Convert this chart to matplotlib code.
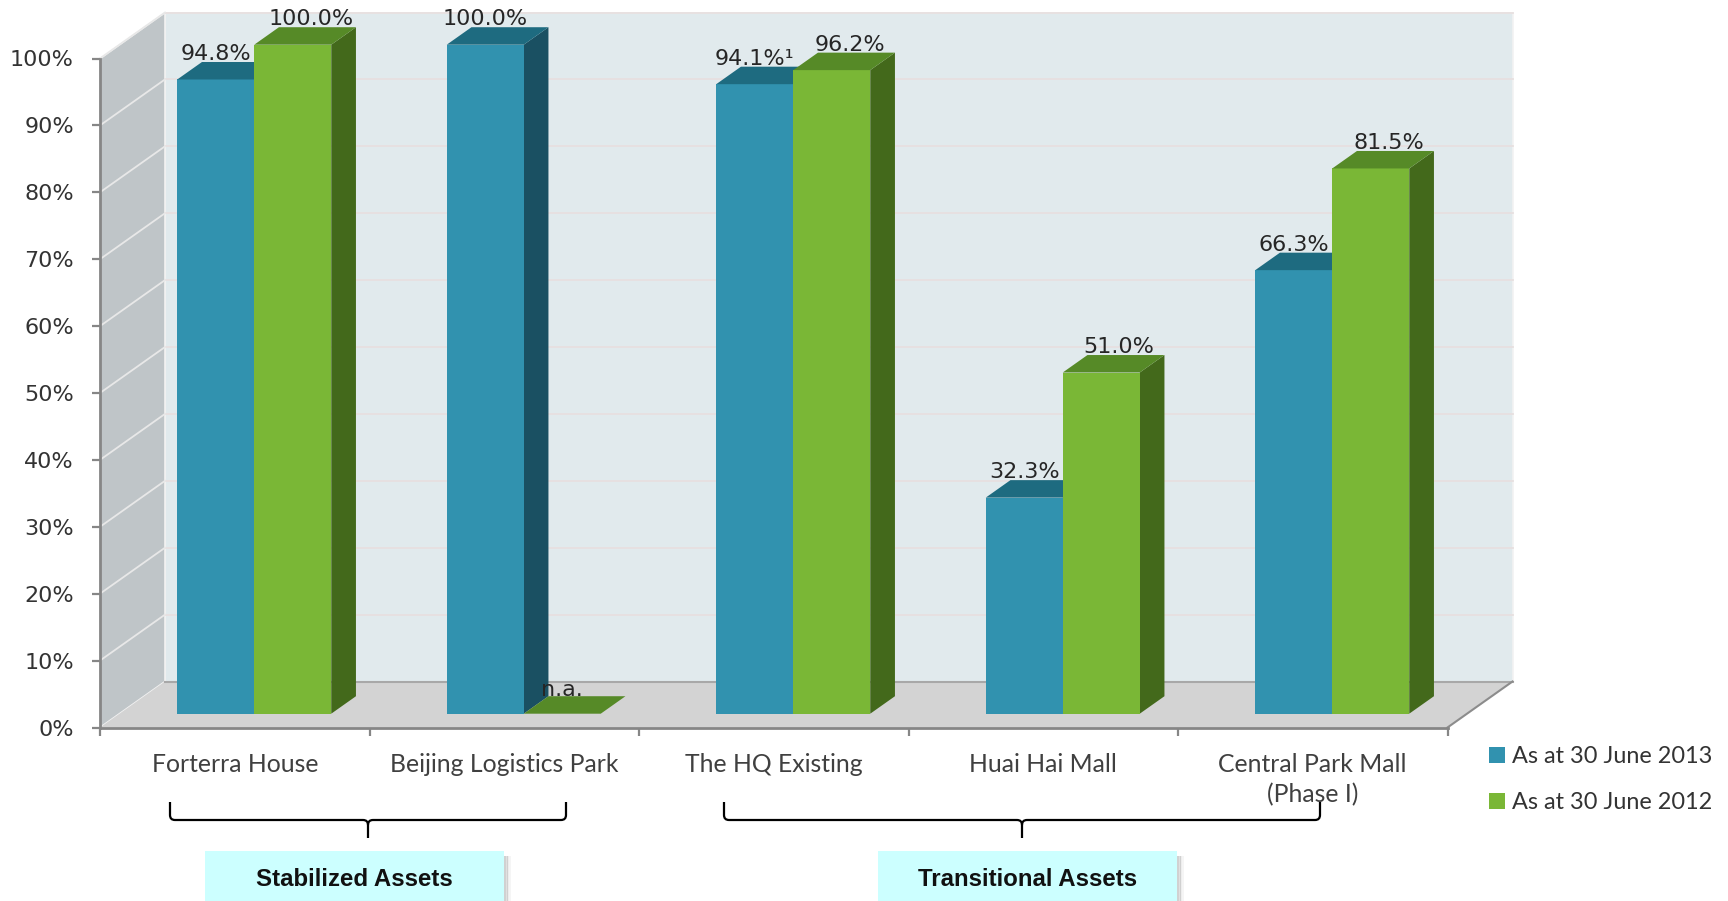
import matplotlib
matplotlib.use("Agg")
import matplotlib.pyplot as plt
from matplotlib.patches import Polygon, Rectangle, Patch, PathPatch
from matplotlib.path import Path
from matplotlib.transforms import Affine2D

# ---------------- data ----------------
categories = ["Forterra House", "Beijing Logistics Park", "The HQ Existing",
              "Huai Hai Mall", "Central Park Mall\n(Phase I)"]
series_names = ["As at 30 June 2013", "As at 30 June 2012"]
occ_2013 = [94.8, 100.0, 94.1, 32.3, 66.3]
occ_2012 = [100.0, None, 96.2, 51.0, 81.5]
labels_2013 = ["94.8%", "100.0%", "94.1%\u00b9", "32.3%", "66.3%"]
labels_2012 = ["100.0%", "n.a.", "96.2%", "51.0%", "81.5%"]
yticks = list(range(0, 101, 10))
ytick_labels = [f"{v}%" for v in yticks]
group_names = ["Stabilized Assets", "Transitional Assets"]

# ---------------- layout ----------------
FW, FH = 1728, 901
X0_PX, CAT_PX = 100.0, 269.5      # x of category 0 edge, px per category
Y0_PX, PCT_PX = 727.5, 6.69       # y (from top) of 0 %, px per percent

fig = plt.figure(figsize=(FW / 100, FH / 100), dpi=100)
ax = fig.add_axes([0, 0, 1, 1])
ax.set_xlim(-X0_PX / CAT_PX, (FW - X0_PX) / CAT_PX)
ax.set_ylim(-(FH - Y0_PX) / PCT_PX, Y0_PX / PCT_PX)
ax.patch.set_visible(False)

n = len(categories)
DX, DY = 65 / CAT_PX, 46 / PCT_PX          # full depth of the 3-D box
F0, F1 = 0.30, 0.68                        # bar front / back depth fraction
BW = 77 / CAT_PX                           # bar width in category units
YMAX = 100

wall_back = "#E1EAED"
wall_side = "#BFC5C8"
floor_col = "#D3D3D3"
blue = ("#3192AF", "#1E6B80", "#1A5062")   # front, top, side
green = ("#7AB736", "#568A27", "#43691B")

# walls and floor
ax.add_patch(Polygon([(DX, DY), (n + DX, DY), (n + DX, YMAX + DY), (DX, YMAX + DY)],
                     closed=True, fc=wall_back, ec="#F2F2F2", lw=1.2, zorder=1))
ax.add_patch(Polygon([(0, 0), (DX, DY), (DX, YMAX + DY), (0, YMAX)],
                     closed=True, fc=wall_side, ec="#F2F2F2", lw=1.2, zorder=1))
ax.add_patch(Polygon([(0, 0), (n, 0), (n + DX, DY), (DX, DY)],
                     closed=True, fc=floor_col, ec="none", zorder=1))
ax.plot([DX, n + DX], [DY, DY], color="#A8A8A8", lw=1.5, zorder=1.2)
ax.plot([n, n + DX], [0, DY], color="#8C8C8C", lw=1.5, zorder=1.2)

# gridlines
for t in yticks[1:]:
    ax.plot([DX, n + DX], [t + DY, t + DY], color="#E7E0E0", lw=1.3, zorder=1.1)
    ax.plot([0, DX], [t, t + DY], color="#E8E8E8", lw=1.3, zorder=1.1)


def bar3d(xl, h, cols, z):
    ddx, ddy = (F1 - F0) * DX, (F1 - F0) * DY
    yb = F0 * DY
    front = [(xl, yb), (xl + BW, yb), (xl + BW, yb + h), (xl, yb + h)]
    side = [(xl + BW, yb), (xl + BW + ddx, yb + ddy),
            (xl + BW + ddx, yb + h + ddy), (xl + BW, yb + h)]
    top = [(xl, yb + h), (xl + BW, yb + h),
           (xl + BW + ddx, yb + h + ddy), (xl + ddx, yb + h + ddy)]
    if h > 0:
        ax.add_patch(Polygon(side, closed=True, fc=cols[2], ec="none", zorder=z))
        ax.add_patch(Polygon(front, closed=True, fc=cols[0], ec="none", zorder=z))
    ax.add_patch(Polygon(top, closed=True, fc=cols[1], ec="none", zorder=z))


lab_kw = dict(fontsize=16, color="#262626", ha="center", va="baseline",
              family="DejaVu Sans", zorder=10)
bar_top_dy = (F1 - F0) * DY
for i in range(n):
    xc = i + 0.5 + F0 * DX           # boundary between the two bars (front plane)
    z = 3 + i
    bar3d(xc - BW, occ_2013[i], blue, z)
    v2 = occ_2012[i]
    bar3d(xc, 0 if v2 is None else v2, green, z + 0.5)
    # labels
    ax.text(xc - BW / 2, occ_2013[i] + F0 * DY + bar_top_dy + 0.3, labels_2013[i], **lab_kw)
    if v2 is None:
        ax.text(xc + BW / 2, F0 * DY + bar_top_dy, labels_2012[i], **lab_kw)
    else:
        ax.text(xc + BW / 2 + 18 / CAT_PX, v2 + F0 * DY + bar_top_dy + 0.3,
                labels_2012[i], **lab_kw)

# axes spines and ticks
for s in ("top", "right"):
    ax.spines[s].set_visible(False)
for s in ("left", "bottom"):
    ax.spines[s].set_position(("data", 0))
    ax.spines[s].set_color("#868686")
    ax.spines[s].set_linewidth(2)
    ax.spines[s].set_zorder(20)
ax.spines["left"].set_bounds(0, YMAX)
ax.spines["bottom"].set_bounds(0, n)

ax.set_yticks(yticks)
ax.set_yticklabels(ytick_labels)
ax.tick_params(axis="y", direction="out", length=5.8, width=1.6, color="#868686",
               pad=13, labelsize=16, labelcolor="#333333")
for lab in ax.get_yticklabels():
    lab.set_family("DejaVu Sans")

ax.set_xticks(range(n + 1))
ax.set_xticklabels([""] * (n + 1))
ax.set_xticks([i + 0.5 for i in range(n)], minor=True)
ax.set_xticklabels(categories, minor=True)
ax.tick_params(axis="x", which="major", direction="out", length=5.8, width=1.6,
               color="#868686")
ax.tick_params(axis="x", which="minor", length=0, pad=18, labelsize=17.8,
               labelcolor="#404040")
for lab in ax.get_xticklabels(minor=True):
    lab.set_family("Lato")
    lab.set_linespacing(1.4)

# legend
handles = [Patch(fc=blue[0], ec="none"), Patch(fc=green[0], ec="none")]
ax.legend(handles, series_names, loc="upper left",
          bbox_to_anchor=(1480 / FW, 1 - 737 / FH), frameon=False,
          handlelength=0.65, handleheight=0.65, handletextpad=0.3,
          labelspacing=1.05, borderaxespad=0,
          prop={"family": "Lato", "size": 16.9}, labelcolor="#333333")

# ---------------- braces and group boxes (figure pixel coords) ----------------
px = Affine2D().scale(1, -1).translate(0, FH).scale(1 / FW, 1 / FH) + fig.transFigure


def brace(xl, xr, xm, yt, yb, ytip, r=5):
    verts = [(xl, yt), (xl, yb - r), (xl, yb), (xl + r, yb),
             (xm - r, yb), (xm, yb), (xm, yb + r), (xm, ytip),
             (xm, yb + r), (xm, yb), (xm + r, yb),
             (xr - r, yb), (xr, yb), (xr, yb - r), (xr, yt)]
    codes = [Path.MOVETO, Path.LINETO, Path.CURVE3, Path.CURVE3,
             Path.LINETO, Path.CURVE3, Path.CURVE3, Path.LINETO,
             Path.MOVETO, Path.CURVE3, Path.CURVE3,
             Path.LINETO, Path.CURVE3, Path.CURVE3, Path.LINETO]
    fig.patches.append(PathPatch(Path(verts, codes), fc="none", ec="black",
                                 lw=1.6, transform=px, figure=fig))


def group_box(x0, x1, y0, y1, text):
    for k, a in enumerate([0.18, 0.12, 0.07, 0.04]):
        fig.patches.append(Rectangle((x1 + k * 1.5, y0 + 5), 2, y1 - y0,
                                     fc="#000000", alpha=a, ec="none",
                                     transform=px, figure=fig))
    fig.patches.append(Rectangle((x0, y0), x1 - x0, y1 - y0, fc="#CCFFFF",
                                 ec="none", transform=px, figure=fig))
    fig.text((x0 + x1) / 2 / FW, 1 - 879 / FH, text, ha="center", va="center",
             fontsize=17.3, fontweight="bold", family="Liberation Sans",
             color="#111111")


brace(170, 566, 368, 802, 820, 838)
brace(724, 1320, 1022, 802, 820, 838)
group_box(205, 504, 851, 905, group_names[0])
group_box(878, 1177, 851, 905, group_names[1])

fig.savefig("out.png", dpi=100)
